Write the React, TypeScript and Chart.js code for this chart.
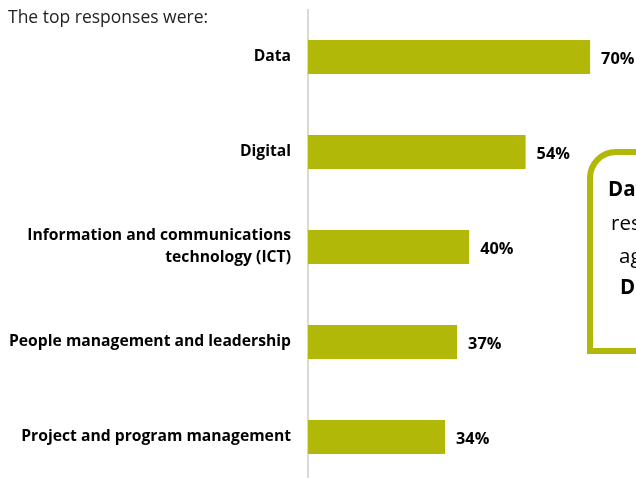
import React, { useEffect, useRef } from "react";
import { Chart, registerables } from "chart.js";

Chart.register(...registerables);

const categories: (string | string[])[] = [
  "Data",
  "Digital",
  ["Information and communications", "technology (ICT)"],
  "People management and leadership",
  "Project and program management",
];
const values: number[] = [70, 54, 40, 37, 34];
const titleText = "The top responses were:";
const calloutLines: { text: string; bold: boolean }[] = [
  { text: "Data was the top", bold: true },
  { text: "response across all", bold: false },
  { text: "agencies, followed by", bold: false },
  { text: "Digital", bold: true },
];

const OLIVE = "#b2b807";
const FONT = "'Open Sans', Lato, sans-serif";

const extras = {
  id: "extras",
  afterDatasetsDraw(chart: any) {
    const ctx = chart.ctx;
    ctx.save();
    // title
    ctx.fillStyle = "#222222";
    ctx.font = `17.5px ${FONT}`;
    ctx.textAlign = "left";
    ctx.textBaseline = "alphabetic";
    ctx.fillText(titleText, 8, 23);
    // value labels
    const meta = chart.getDatasetMeta(0);
    ctx.fillStyle = "#000000";
    ctx.font = `bold 16.3px ${FONT}`;
    ctx.textBaseline = "middle";
    meta.data.forEach((bar: any, i: number) => {
      ctx.fillText(values[i] + "%", bar.x + 11, bar.y + 2);
    });
    // callout box
    ctx.strokeStyle = OLIVE;
    ctx.lineWidth = 6;
    const x = 590, y = 152, w = 200, h = 199, r = 26;
    ctx.beginPath();
    ctx.moveTo(x + w, y);
    ctx.lineTo(x + r, y);
    ctx.arcTo(x, y, x, y + r, r);
    ctx.lineTo(x, y + h);
    ctx.lineTo(x + w, y + h);
    ctx.stroke();
    ctx.textBaseline = "alphabetic";
    ctx.fillStyle = "#000000";
    const xs = [608, 611, 619, 620];
    const ys = [196, 230, 263, 294];
    calloutLines.forEach((l, i) => {
      ctx.font = `${l.bold ? "bold " : ""}20.5px ${FONT}`;
      ctx.fillText(l.text, xs[i], ys[i]);
    });
    ctx.restore();
  },
};

export default function App() {
  const ref = useRef<HTMLCanvasElement>(null);
  useEffect(() => {
    document.body.style.margin = "0";
    const chart = new Chart(ref.current!, {
      type: "bar",
      data: {
        labels: categories,
        datasets: [
          {
            data: values,
            backgroundColor: OLIVE,
            categoryPercentage: 1,
            barPercentage: 0.36,
          },
        ],
      },
      options: {
        indexAxis: "y",
        animation: false,
        responsive: false,
        layout: { padding: { top: 9.5, bottom: 9.5, left: 0, right: 5.6 } },
        plugins: { legend: { display: false }, tooltip: { enabled: false } },
        scales: {
          x: { display: false, min: 0, max: 80 },
          y: {
            afterFit: (s: any) => {
              s.width = 308;
              s.paddingTop = 0;
              s.paddingBottom = 0;
            },
            grid: { display: true, drawOnChartArea: false, drawTicks: false },
            border: { display: true, color: "#d9d9d9", width: 2 },
            ticks: {
              padding: 17,
              color: "#000000",
              font: { family: FONT, size: 15.7, weight: "bold", lineHeight: 1.4 },
            },
          },
        },
      },
      plugins: [extras],
    });
    return () => chart.destroy();
  }, []);
  return (
    <div style={{ position: "fixed", left: 0, top: 0, width: 636, height: 478, overflow: "hidden" }}>
      <canvas ref={ref} width={636} height={494} style={{ width: 636, height: 494, display: "block" }} />
    </div>
  );
}
